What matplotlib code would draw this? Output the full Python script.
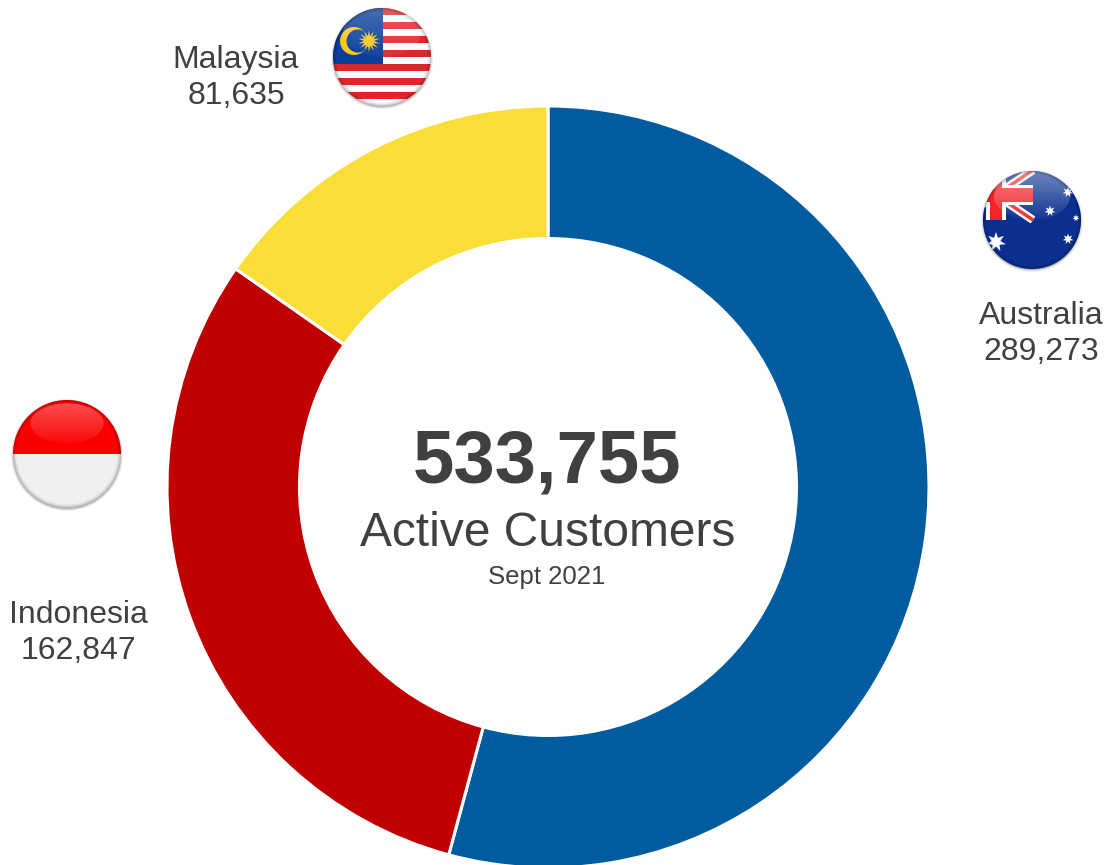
import numpy as np
import matplotlib
matplotlib.use('Agg')
import matplotlib.pyplot as plt
from matplotlib.patches import Circle, Ellipse, Rectangle, Polygon
from matplotlib.colors import to_rgb

countries = ['Australia', 'Indonesia', 'Malaysia']
customers = [289273, 162847, 81635]
customer_labels = ['289,273', '162,847', '81,635']
slice_colors = ['#005C9E', '#C00000', '#F9DE38']
total_label = '533,755'
subtitle = 'Active Customers'
date_label = 'Sept 2021'

plt.rcParams['font.family'] = ['Liberation Sans', 'DejaVu Sans']
text_color = '#404040'
H = 865


def flip(y):
    return H - y


def star(ax, x, y, r, n=7, color='white', clip=None, zorder=5):
    a = np.linspace(0, 2 * np.pi, 2 * n, endpoint=False) + np.pi / 2
    rad = np.where(np.arange(2 * n) % 2 == 0, r, r * 0.45)
    p = Polygon(np.c_[x + rad * np.cos(a), y + rad * np.sin(a)], color=color, lw=0, zorder=zorder)
    ax.add_patch(p)
    if clip is not None:
        p.set_clip_path(clip)
    return p


def base_circle(ax, x, y, r):
    # soft shadow then clip circle
    for i, alpha in enumerate([0.06, 0.1, 0.16]):
        ax.add_patch(Circle((x, y - 1), r + 2 - i, color='black', alpha=alpha, lw=0, zorder=2))
    clip = Circle((x, y), r, transform=ax.transData, fc='none', ec='none', zorder=3)
    ax.add_patch(clip)
    return clip


def add(ax, patch, clip, zorder=4):
    patch.set_zorder(zorder)
    ax.add_patch(patch)
    patch.set_clip_path(clip)
    return patch


def gloss(ax, cx, cy, rx, ry, top_alpha, low_alpha):
    # white highlight that fades downwards, cut to an ellipse
    rgba = np.ones((64, 2, 4))
    rgba[:, :, :3] = to_rgb('white')
    rgba[:, :, 3] = np.linspace(top_alpha, low_alpha, 64)[:, None]
    im = ax.imshow(rgba, extent=(cx - rx, cx + rx, cy - ry, cy + ry), origin='upper',
                   aspect='auto', zorder=8, interpolation='bilinear')
    shape = Ellipse((cx, cy), 2 * rx, 2 * ry, transform=ax.transData, fc='none', ec='none')
    ax.add_patch(shape)
    im.set_clip_path(shape)


def rim(ax, x, y, r, clip):
    # darker rim so the ball looks rounded
    for w, alpha in zip([5, 3, 1.5], [0.05, 0.07, 0.1]):
        add(ax, Circle((x, y), r, fc='none', ec='black', lw=w, alpha=alpha), clip, 9)


def malaysia_flag(ax, x, y, r):
    clip = base_circle(ax, x, y, r)
    add(ax, Rectangle((x - r, y - r), 2 * r, 2 * r, color='white', lw=0), clip)
    n = 14
    h = 2 * r / n
    for i in range(0, n, 2):
        add(ax, Rectangle((x - r, y + r - (i + 1) * h), 2 * r, h, color='#E0262A', lw=0), clip)
    add(ax, Rectangle((x - r, y - 7), r + 1, r + 7, color='#0A3D9C', lw=0), clip, 5)
    add(ax, Circle((x - 28, y + 16), 14, color='#F7C81E', lw=0), clip, 6)
    add(ax, Circle((x - 24, y + 16), 11.5, color='#0A3D9C', lw=0), clip, 6)
    star(ax, x - 13, y + 16, 11, n=14, color='#F7C81E', clip=clip, zorder=6)
    gloss(ax, x, y + 0.5 * r, 0.8 * r, 0.5 * r, 0.25, 0.03)
    rim(ax, x, y, r, clip)


def australia_flag(ax, x, y, r):
    clip = base_circle(ax, x, y, r)
    add(ax, Rectangle((x - r, y - r), 2 * r, 2 * r, color='#0A2F8F', lw=0), clip)
    # union jack in the upper left, cross centre at (x-36, y+25)
    jx, jy = x - 36, y + 25
    ends = [(x + 1, y + 50), (x + 1, y), (x - 73, y), (x - 73, y + 50)]
    for ex, ey in ends:
        add(ax, Polygon([(jx, jy), (ex, ey)], closed=False, fill=False, ec='white', lw=6), clip, 5)
    for ex, ey in ends:
        add(ax, Polygon([(jx, jy), (ex, ey)], closed=False, fill=False, ec='#F0262B', lw=2.5), clip, 5)
    add(ax, Rectangle((x - 46, y), 20, r + 1, color='white', lw=0), clip, 5)
    add(ax, Rectangle((x - r, y + 15), r + 1, 20, color='white', lw=0), clip, 5)
    add(ax, Rectangle((x - 42, y), 12, r + 1, color='#F0262B', lw=0), clip, 6)
    add(ax, Rectangle((x - r, y + 18), r + 1, 14, color='#F0262B', lw=0), clip, 6)
    star(ax, x - 36, y - 22, 10, clip=clip)
    star(ax, x + 18, y + 9, 5.5, clip=clip)
    star(ax, x + 36, y + 28, 5.5, clip=clip)
    star(ax, x + 36, y - 19, 5.5, clip=clip)
    star(ax, x + 44, y + 2, 3.5, clip=clip)
    gloss(ax, x, y + 0.5 * r, 0.78 * r, 0.5 * r, 0.42, 0.04)
    rim(ax, x, y, r, clip)


def indonesia_flag(ax, x, y, r):
    clip = base_circle(ax, x, y, r)
    add(ax, Rectangle((x - r, y), 2 * r, r, color='#FA0000', lw=0), clip)
    add(ax, Rectangle((x - r, y - r), 2 * r, r, color='#F0F0F0', lw=0), clip)
    gloss(ax, x, y + 0.57 * r, 0.68 * r, 0.37 * r, 0.3, 0.05)
    rim(ax, x, y, r, clip)


fig = plt.figure(figsize=(11.06, 8.65), dpi=100)
ax = fig.add_axes([0, 0, 1, 1])

#the donut itself
ax.pie(customers, colors=slice_colors, startangle=90, counterclock=False,
       center=(548, flip(487)), radius=381, frame=True,
       wedgeprops=dict(width=132.5, edgecolor='white', linewidth=2.2))

#center text
ax.text(547, flip(463), total_label, fontsize=53.5, fontweight='bold', color=text_color, ha='center', va='center')
ax.text(548, flip(534), subtitle, fontsize=34.5, color=text_color, ha='center', va='center')
ax.text(547, flip(577), date_label, fontsize=18.5, color=text_color, ha='center', va='center')

#country labels
label_pos = [(1041.5, 316), (78, 615), (236, 60)]
for name, num, (lx, ly) in zip(countries, customer_labels, label_pos):
    ax.text(lx, flip(ly), name, fontsize=23, color=text_color, ha='center', va='center')
    ax.text(lx, flip(ly + 36), num, fontsize=23, color=text_color, ha='center', va='center')

malaysia_flag(ax, 382, flip(57), 49)
australia_flag(ax, 1032, flip(220), 49)
indonesia_flag(ax, 67, flip(454), 54)

ax.set_xlim(0, 1106)
ax.set_ylim(0, H)
ax.set_aspect('equal')
ax.axis('off')

fig.savefig('out.png', dpi=100)
